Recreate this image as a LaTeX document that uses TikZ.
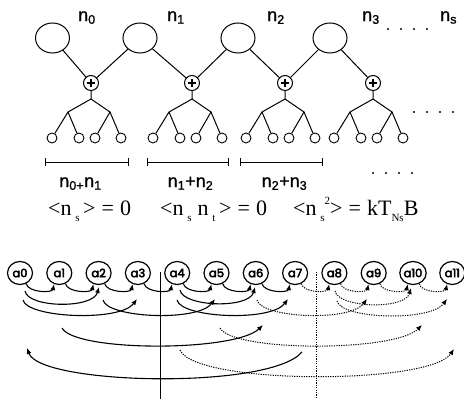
\documentclass[tikz,border=0pt]{standalone}
\usepackage{fontspec}
\setmainfont{Liberation Serif}
\newfontfamily\sansf[FakeBold=1.2]{Liberation Sans}
\newfontfamily\nodef[FakeBold=4]{Poppins}
\usetikzlibrary{shapes.geometric,arrows.meta}
\newcommand\lo[1]{\raisebox{-0.3em}{\fontsize{11}{11}\selectfont #1}}
\newcommand\hi[1]{\raisebox{0.5em}{\fontsize{11}{11}\selectfont #1}}
\begin{document}
\begin{tikzpicture}[x=1pt,y=-1pt,
  big/.style={draw,ellipse,minimum width=34pt,minimum height=30pt,inner sep=0pt,line width=1pt},
  plusn/.style={draw,circle,minimum size=15pt,inner sep=0pt,line width=1pt},
  leaf/.style={draw,circle,minimum size=10pt,inner sep=0pt,line width=0.9pt},
  wire/.style={line width=1pt},
  nlab/.style={font=\sansf\fontsize{18}{20}\selectfont,inner sep=0pt,anchor=base west},
  blab/.style={font=\sansf\fontsize{18}{20}\selectfont,inner sep=0pt,anchor=base},
  eqlab/.style={font=\fontsize{22}{24}\selectfont,inner sep=0pt,anchor=base west},
  anode/.style={draw,ellipse,minimum width=25pt,minimum height=23pt,inner sep=0pt,line width=1.2pt,font=\nodef\fontsize{11.5}{12}\selectfont},
  arc/.style={line width=1.1pt,-{Latex[length=6pt,width=5pt]}},
  darc/.style={arc,line width=1pt,dash pattern=on 1.2pt off 1.2pt},
]
\useasboundingbox (0,0) rectangle (464,399);

% top labels
\node[nlab] (t0) at (78,21) {n\textsubscript{0}};
\node[nlab] (t1) at (167,21) {n\textsubscript{1}};
\node[nlab] (t2) at (267,21) {n\textsubscript{2}};
\node[nlab] (t3) at (362,21) {n\textsubscript{3}};
\node[nlab] (ts) at (440,21) {n\textsubscript{s}};
\foreach \x in {388,401,414,427} \fill (\x,29) circle (1.1);
\foreach \x in {414,427,440,453} \fill (\x,112) circle (1.1);
\foreach \x in {373,386,399,412} \fill (\x,173) circle (1.1);

% big circles
\node[big] (c1) at (52.5,38) {};
\node[big] (c2) at (140,38) {};
\node[big] (c3) at (238,38) {};
\node[big] (c4) at (330,38) {};

% adders and trees
\foreach \i/\px in {1/91,2/192,3/285,4/373} {
  \node[plusn] (p\i) at (\px,83) {};
  \draw[line width=1.9pt] ([xshift=-4.3pt]p\i.center) -- ([xshift=4.3pt]p\i.center);
  \draw[line width=1.9pt] ([yshift=-4.3pt]p\i.center) -- ([yshift=4.3pt]p\i.center);
  \coordinate (s\i) at (\px,99);
  \coordinate (bl\i) at (\px-23,112);
  \coordinate (br\i) at (\px+19,112);
  \node[leaf] (l\i a) at (\px-39,138) {};
  \node[leaf] (l\i b) at (\px-12,138) {};
  \node[leaf] (l\i c) at (\px+4,138) {};
  \node[leaf] (l\i d) at (\px+30,138) {};
  \draw[wire] (p\i) -- (s\i) -- (bl\i) -- (l\i a);
  \draw[wire] (bl\i) -- (l\i b);
  \draw[wire] (s\i) -- (br\i) -- (l\i c);
  \draw[wire] (br\i) -- (l\i d);
}
\draw[wire] (c1) -- (p1);
\draw[wire] (c2) -- (p1);
\draw[wire] (c2) -- (p2);
\draw[wire] (c3) -- (p2);
\draw[wire] (c3) -- (p3);
\draw[wire] (c4) -- (p3);
\draw[wire] (c4) -- (p4);

% brackets
\foreach \a/\b in {45/128,147/228,240/322} {
  \draw[wire] (\a,162) -- (\b,162);
  \draw[wire] (\a,158) -- (\a,166);
  \draw[wire] (\b,158) -- (\b,166);
}
\node[blab] (s01) at (80.5,187) {n\textsubscript{0+}n\textsubscript{1}};
\node[blab] (s12) at (190.5,187) {n\textsubscript{1}+n\textsubscript{2}};
\node[blab] (s23) at (284.5,187) {n\textsubscript{2}+n\textsubscript{3}};

% equations
\node[eqlab] (e1) at (48,215) {<n\,\lo{s}\,>\;=\;0};
\node[eqlab] (e2) at (160,215) {<n\,\lo{s}\;n\,\lo{t}\,>\;=\;0};
\node[eqlab] (e3) at (293,215) {<n\,\lo{s}\hi{2}>\;=\;kT\lo{Ns}B};

% bottom nodes
\foreach \i in {0,...,11} \node[anode] (a\i) at ({20+39.3*\i},273) {a\i};

\draw[line width=1pt] (160,272) -- (160,399);
\draw[line width=1pt,dash pattern=on 1.2pt off 1.2pt] (316,272) -- (316,399);

% level 1
\foreach \i in {0,...,6} {
  \pgfmathtruncatemacro\j{\i+1}
  \draw[arc] (a\i.-60) .. controls +(2,9) and +(-2,9) .. (a\j.-115);
}
\foreach \i in {7,...,10} {
  \pgfmathtruncatemacro\j{\i+1}
  \draw[darc] (a\i.-60) .. controls +(2,9) and +(-2,9) .. (a\j.-115);
}

% level 2
\coordinate (u0) at (25,291);  \coordinate (v2) at (99,287);
\coordinate (u4) at (180,290); \coordinate (v6) at (255,287);
\coordinate (u8) at (335,291); \coordinate (v10) at (411,288);
\draw[arc] (u0) .. controls +(3,17) and +(-6,22) .. (v2);
\draw[arc] (u4) .. controls +(3,17) and +(-6,22) .. (v6);
\draw[darc] (u8) .. controls +(3,17) and +(-6,22) .. (v10);

% level 3
\coordinate (w0) at (23,300);  \coordinate (x3) at (137,299);
\coordinate (w2) at (103,300); \coordinate (x5) at (215,299);
\coordinate (w4) at (177,300); \coordinate (x7) at (288,299);
\coordinate (w6) at (257,300); \coordinate (x9) at (367,299);
\coordinate (w8) at (337,301); \coordinate (x11) at (447,299);
\draw[arc] (w0) .. controls +(4,18) and +(-17,23) .. (x3);
\draw[arc] (w2) .. controls +(4,18) and +(-17,23) .. (x5);
\draw[arc] (w4) .. controls +(4,18) and +(-17,23) .. (x7);
\draw[darc] (w6) .. controls +(4,18) and +(-17,23) .. (x9);
\draw[darc] (w8) .. controls +(4,18) and +(-17,23) .. (x11);

% level 4
\coordinate (y1) at (62,328);  \coordinate (z6) at (263,325);
\coordinate (y5) at (220,328); \coordinate (z10) at (422,325);
\draw[arc] (y1) .. controls (75,352) and (235,352) .. (z6);
\draw[darc] (y5) .. controls (233,352) and (395,352) .. (z10);

% level 5
\coordinate (q7) at (302,352); \coordinate (r0) at (27,348);
\coordinate (q4) at (180,350); \coordinate (r11) at (454,349);
\draw[arc] (q7) .. controls (270,390) and (40,385) .. (r0);
\draw[darc] (q4) .. controls (195,385) and (430,385) .. (r11);
\end{tikzpicture}
\end{document}
